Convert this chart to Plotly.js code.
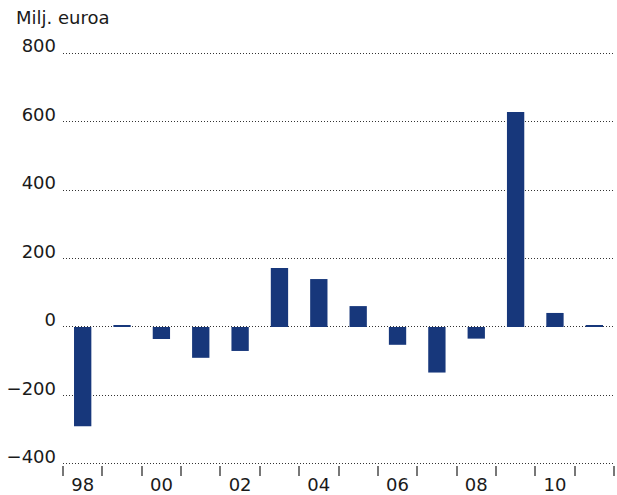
<!DOCTYPE html>
<html>
<head>
<meta charset="utf-8">
<script src="https://cdn.plot.ly/plotly-3.0.1.min.js"></script>
<style>html,body{margin:0;padding:0;background:#fff;}</style>
</head>
<body>
<div id="chart" style="width:617px;height:495px;"></div>
<script>
const years = ["1998","1999","2000","2001","2002","2003","2004","2005","2006","2007","2008","2009","2010","2011"];
const values = [-290, 4, -35, -90, -70, 172, 140, 61, -52, -133, -34, 628, 41, 4];
const xTickText = ["98","","00","","02","","04","","06","","08","","10",""];
const yTicks = [-400, -200, 0, 200, 400, 600, 800];
const unitLabel = "Milj. euroa";

const FONT = "DejaVu Sans, sans-serif";

Plotly.newPlot("chart", [{
  type: "bar",
  x: years,
  y: values,
  marker: {color: "#17377b"},
  width: 0.44,
  hoverinfo: "x+y"
}], {
  width: 617, height: 495,
  margin: {l: 63, r: 3, t: 52, b: 30},
  paper_bgcolor: "#fff", plot_bgcolor: "#fff",
  showlegend: false,
  font: {family: FONT, size: 18, color: "#1a1a1a"},
  xaxis: {
    type: "category",
    tickmode: "array",
    tickvals: years,
    ticktext: xTickText,
    tickson: "boundaries",
    ticks: "outside",
    ticklen: 10,
    tickwidth: 1.5,
    tickcolor: "#777",
    ticklabelstandoff: 7,
    showgrid: false,
    showline: false,
    zeroline: false,
    tickfont: {family: FONT, size: 18, color: "#1a1a1a"}
  },
  yaxis: {
    range: [-403, 803],
    tickmode: "array",
    tickvals: yTicks,
    ticks: "",
    showgrid: true,
    gridcolor: "#333",
    gridwidth: 1,
    griddash: "1px,2px",
    zeroline: false,
    showline: false,
    ticklabelshift: -7,
    ticklabelstandoff: 6,
    tickfont: {family: FONT, size: 18, color: "#1a1a1a"}
  },
  annotations: [{
    text: unitLabel,
    xref: "paper", yref: "paper",
    x: -49/551, y: 1 + (52-17)/413,
    xanchor: "left", yanchor: "middle",
    showarrow: false,
    font: {family: FONT, size: 18, color: "#1a1a1a"}
  }]
}, {displayModeBar: false});
</script>
</body>
</html>
